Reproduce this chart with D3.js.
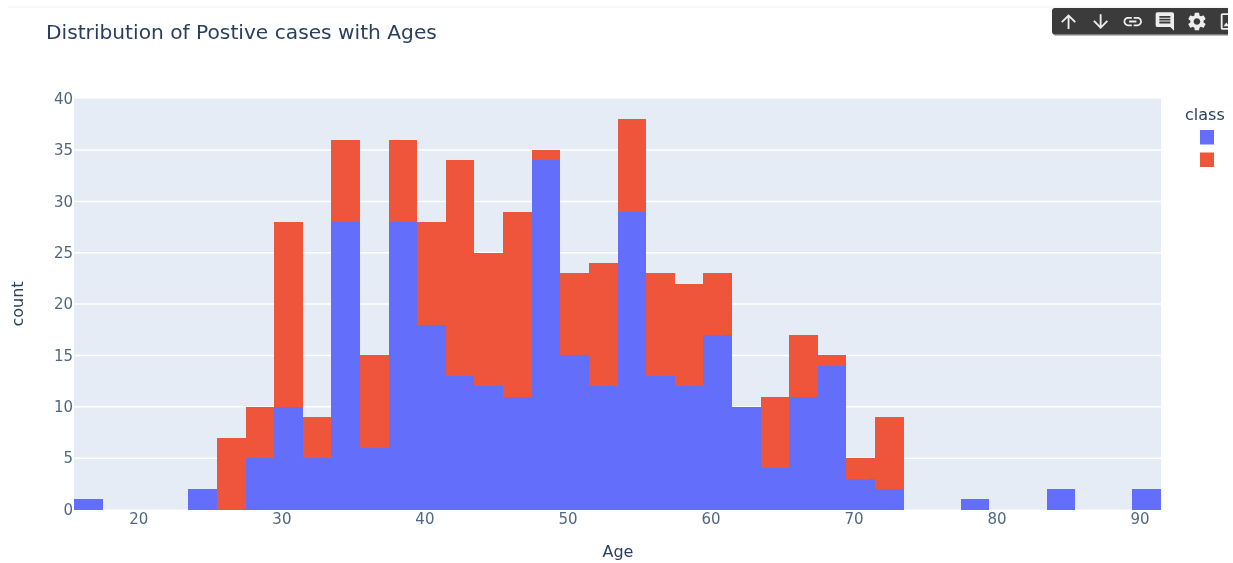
<!DOCTYPE html>
<html>
<head>
<meta charset="utf-8">
<script src="https://d3js.org/d3.v7.min.js"></script>
<style>
  html, body { margin: 0; padding: 0; background: #fff; }
  svg { display: block; filter: blur(0.4px); }
  text { font-family: "DejaVu Sans", sans-serif; }
</style>
</head>
<body>
<svg id="canvas"></svg>
<script>
"use strict"

const binStarts = [15.5, 17.5, 19.5, 21.5, 23.5, 25.5, 27.5, 29.5, 31.5, 33.5, 35.5, 37.5, 39.5, 41.5, 43.5, 45.5, 47.5, 49.5, 51.5,
  53.5, 55.5, 57.5, 59.5, 61.5, 63.5, 65.5, 67.5, 69.5, 71.5, 73.5, 75.5, 77.5, 79.5, 81.5, 83.5, 85.5, 87.5, 89.5]
const blueCounts = [1, 0, 0, 0, 2, 0, 5, 10, 5, 28, 6, 28, 18, 13, 12, 11, 34, 15, 12,
  29, 13, 12, 17, 10, 4, 11, 14, 3, 2, 0, 0, 1, 0, 0, 2, 0, 0, 2]
const redCounts = [0, 0, 0, 0, 0, 7, 5, 18, 4, 8, 9, 8, 10, 21, 13, 18, 1, 8, 12,
  9, 10, 10, 6, 0, 7, 6, 1, 2, 7, 0, 0, 0, 0, 0, 0, 0, 0, 0]
const binWidth = 2
const xTicks = [20, 30, 40, 50, 60, 70, 80, 90]
const yTicks = [0, 5, 10, 15, 20, 25, 30, 35, 40]
const seriesColors = ["#636efa", "#ef553b"]

// material icons used by the notebook cell toolbar
const toolbarIcons = [
  "M4 12l1.41 1.41L11 7.83V20h2V7.83l5.58 5.59L20 12l-8-8-8 8z",
  "M20 12l-1.41-1.41L13 16.17V4h-2v12.17l-5.58-5.59L4 12l8 8 8-8z",
  "M3.9 12c0-1.71 1.39-3.1 3.1-3.1h4V7H7c-2.76 0-5 2.24-5 5s2.24 5 5 5h4v-1.9H7c-1.71 0-3.1-1.39-3.1-3.1zM8 13h8v-2H8v2zm9-6h-4v1.9h4c1.71 0 3.1 1.39 3.1 3.1s-1.39 3.1-3.1 3.1h-4V17h4c2.76 0 5-2.24 5-5s-2.24-5-5-5z",
  "M21.99 4c0-1.1-.89-2-1.99-2H4c-1.1 0-2 .9-2 2v12c0 1.1.9 2 2 2h14l4 4-.01-18zM18 14H6v-2h12v2zm0-3H6V9h12v2zm0-3H6V6h12v2z",
  "M19.14 12.94c.04-.3.06-.61.06-.94 0-.32-.02-.64-.07-.94l2.03-1.58c.18-.14.23-.41.12-.61l-1.92-3.32c-.12-.22-.37-.29-.59-.22l-2.39.96c-.5-.38-1.03-.7-1.62-.94l-.36-2.54c-.04-.24-.24-.41-.48-.41h-3.84c-.24 0-.43.17-.47.41l-.36 2.54c-.59.24-1.13.57-1.62.94l-2.39-.96c-.22-.08-.47 0-.59.22L2.74 8.87c-.12.21-.08.47.12.61l2.03 1.58c-.05.3-.09.63-.09.94s.02.64.07.94l-2.03 1.58c-.18.14-.23.41-.12.61l1.92 3.32c.12.22.37.29.59.22l2.39-.96c.5.38 1.03.7 1.62.94l.36 2.54c.05.24.24.41.48.41h3.84c.24 0 .44-.17.47-.41l.36-2.54c.59-.24 1.13-.56 1.62-.94l2.39.96c.22.08.47 0 .59-.22l1.92-3.32c.12-.22.07-.47-.12-.61l-2.01-1.58zM12 15.6c-1.98 0-3.6-1.62-3.6-3.6s1.62-3.6 3.6-3.6 3.6 1.62 3.6 3.6-1.62 3.6-3.6 3.6z",
  "M19 5v14H5V5h14m0-2H5c-1.1 0-2 .9-2 2v14c0 1.1.9 2 2 2h14c1.1 0 2-.9 2-2V5c0-1.1-.9-2-2-2zm-4.86 8.86l-3 3.87L9 13.14 6 17h12l-3.86-5.14z"
]

const $ = { width: 1233, height: 563, left: 74, right: 1161, top: 98.7, bottom: 509.5 }
const textColor = "#2a3f5f"
const tickColor = "#506784"

const svg = d3.select("#canvas")
  .attr("width", $.width)
  .attr("height", $.height)

const x = d3.scaleLinear().domain([15.5, 91.5]).range([$.left, $.right])
const y = d3.scaleLinear().domain([0, 40]).range([$.bottom, $.top])

// faint rule above the cell
svg.append("rect")
  .attr("x", 8).attr("y", 6).attr("width", 1220).attr("height", 2)
  .attr("fill", "#f7f7f7")

svg.append("rect")
  .attr("x", $.left).attr("y", $.top)
  .attr("width", $.right - $.left).attr("height", $.bottom - $.top)
  .attr("fill", "#e5ecf6")

// gridlines
svg.append("g")
  .selectAll("line")
  .data(yTicks.slice(1, -1))
  .enter().append("line")
    .attr("x1", $.left).attr("x2", $.right)
    .attr("y1", d => y(d)).attr("y2", d => y(d))
    .attr("stroke", "#fff")
    .attr("stroke-width", 1.5)

const rows = binStarts.map((b, i) => ({ start: b, blue: blueCounts[i], red: redCounts[i] }))
const stacked = d3.stack().keys(["blue", "red"])(rows)

svg.append("g")
  .attr("shape-rendering", "crispEdges")
  .selectAll("g")
  .data(stacked)
  .enter().append("g")
    .attr("fill", (s, i) => seriesColors[i])
  .selectAll("rect")
  .data(s => s.filter(d => d[1] > d[0]))
  .enter().append("rect")
    .attr("x", d => x(d.data.start))
    .attr("width", d => x(d.data.start + binWidth) - x(d.data.start))
    .attr("y", d => y(d[1]))
    .attr("height", d => y(d[0]) - y(d[1]))

const xAxis = svg.append("g")
  .attr("transform", "translate(0," + $.bottom + ")")
  .call(d3.axisBottom(x).tickValues(xTicks).tickSize(0).tickPadding(4))
const yAxis = svg.append("g")
  .attr("transform", "translate(" + $.left + ",0)")
  .call(d3.axisLeft(y).tickValues(yTicks).tickSize(0).tickPadding(1))

;[xAxis, yAxis].forEach(a => {
  a.select(".domain").remove()
  a.selectAll("text")
    .attr("fill", tickColor)
    .style("font-size", "15px")
    .style("font-family", '"DejaVu Sans", sans-serif')
})

svg.append("text")
  .attr("x", 46).attr("y", 39)
  .attr("fill", textColor)
  .style("font-size", "20.2px")
  .text("Distribution of Postive cases with Ages")

svg.append("text")
  .attr("x", 618).attr("y", 557)
  .attr("text-anchor", "middle")
  .attr("fill", textColor)
  .style("font-size", "16px")
  .text("Age")

svg.append("text")
  .attr("transform", "translate(23,304) rotate(-90)")
  .attr("text-anchor", "middle")
  .attr("fill", textColor)
  .style("font-size", "16px")
  .text("count")

// legend
svg.append("text")
  .attr("x", 1185).attr("y", 120)
  .attr("fill", textColor)
  .style("font-size", "16px")
  .text("class")

svg.append("g")
  .selectAll("rect")
  .data(seriesColors)
  .enter().append("rect")
    .attr("x", 1200)
    .attr("y", (c, i) => 130 + i * 22.5)
    .attr("width", 14).attr("height", 14.5)
    .attr("fill", c => c)

// toolbar, clipped by the right edge of the screenshot
svg.append("clipPath").attr("id", "toolbar-clip")
  .append("rect").attr("x", 1040).attr("y", 0).attr("width", 188).attr("height", 50)

const toolbar = svg.append("g").attr("clip-path", "url(#toolbar-clip)")

toolbar.append("rect")
  .attr("x", 1053).attr("y", 10).attr("width", 200).attr("height", 26).attr("rx", 3)
  .attr("fill", "#bbb")
toolbar.append("rect")
  .attr("x", 1052).attr("y", 8).attr("width", 200).attr("height", 26.5).attr("rx", 3)
  .attr("fill", "#3b3b3b")

toolbar.selectAll("path")
  .data(toolbarIcons)
  .enter().append("path")
    .attr("d", d => d)
    .attr("fill", "#eee")
    .attr("transform", (d, i) => "translate(" + (1057.5 + i * 32.1) + ",10.5) scale(0.92)")
</script>
</body>
</html>
